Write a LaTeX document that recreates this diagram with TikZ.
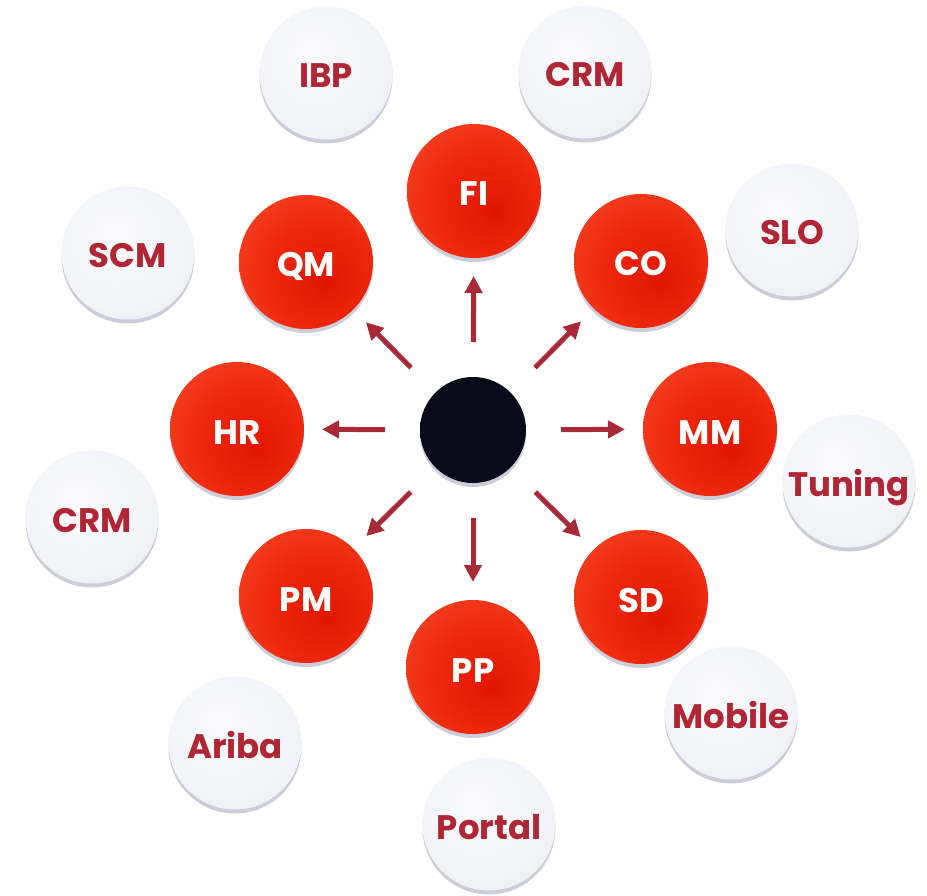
\documentclass[tikz,border=0pt]{standalone}
\usepackage{fontspec}
\setmainfont{Poppins}
\usetikzlibrary{arrows.meta,shadows}
\definecolor{arrowred}{RGB}{168,42,54}
\definecolor{textred}{RGB}{176,38,52}
\definecolor{shadowc}{RGB}{112,108,150}
\definecolor{rbdark}{RGB}{226,22,0}
\definecolor{rbmid}{RGB}{238,40,12}
\definecolor{rblight}{RGB}{247,82,50}
\definecolor{rbedge}{RGB}{214,44,30}
\definecolor{wbcenter}{RGB}{252,252,254}
\definecolor{wbmid}{RGB}{240,242,248}
\definecolor{wbedge}{RGB}{214,218,232}
\definecolor{bbdark}{RGB}{10,11,24}
\definecolor{bbedge}{RGB}{52,54,70}
\pgfdeclareradialshading{redshade}{\pgfpoint{8bp}{-8bp}}{color(0bp)=(rbdark); color(20bp)=(rbmid); color(44bp)=(rblight); color(58bp)=(rbedge)}
\pgfdeclareradialshading{whiteshade}{\pgfpoint{-6bp}{8bp}}{color(0bp)=(wbcenter); color(28bp)=(wbmid); color(52bp)=(wbedge); color(60bp)=(wbedge)}
\pgfdeclareradialshading{blackshade}{\pgfpoint{0bp}{-6bp}}{color(0bp)=(bbdark); color(38bp)=(bbdark); color(52bp)=(bbedge); color(60bp)=(bbedge)}

\begin{document}
\begin{tikzpicture}[x=1pt,y=-1pt,
  ball/.style={circle,inner sep=0pt,outer sep=0pt,text height=30pt,text depth=0pt,
    font=\fontsize{34}{40}\selectfont\bfseries,
    drop shadow={shadow xshift=0pt,shadow yshift=-4pt,opacity=0.35,fill=shadowc}},
  redball/.style={ball,minimum size=134pt,shading=redshade,text=white},
  whiteball/.style={ball,minimum size=133pt,shading=whiteshade,text=textred},
  hub/.style={ball,minimum size=106pt,shading=blackshade},
  arr/.style={arrowred,line width=5pt,-{Triangle[length=17pt,width=17pt]},shorten <=35pt,shorten >=18pt}]
\useasboundingbox (0,0) rectangle (927,896);
%Hub
\node[hub] at (473,430) (hub) {};
%Modules
\node[redball] at (474,191) (fi) {FI};
\node[redball] at (641,261) (co) {CO};
\node[redball] at (710,429) (mm) {MM};
\node[redball] at (641,597) (sd) {SD};
\node[redball] at (473,667) (pp) {PP};
\node[redball] at (306,596) (pm) {PM};
\node[redball] at (237,429) (hr) {HR};
\node[redball] at (306,262) (qm) {QM};
%Products
\node[whiteball] at (326,73) (ibp) {IBP};
\node[whiteball] at (585,72) (crma) {CRM};
\node[whiteball] at (792,230) (slo) {SLO};
\node[whiteball] at (849,481) (tuning) {Tuning};
\node[whiteball] at (731,713) (mobile) {Mobile};
\node[whiteball] at (489,824) (portal) {Portal};
\node[whiteball] at (235,743) (ariba) {Ariba};
\node[whiteball] at (92,517) (crmb) {CRM};
\node[whiteball] at (128,253) (scm) {SCM};
%Arrows
\draw[arr] (hub) -- (fi);
\draw[arr] (hub) -- (co);
\draw[arr] (hub) -- (mm);
\draw[arr] (hub) -- (sd);
\draw[arr] (hub) -- (pp);
\draw[arr] (hub) -- (pm);
\draw[arr] (hub) -- (hr);
\draw[arr] (hub) -- (qm);
\end{tikzpicture}
\end{document}
